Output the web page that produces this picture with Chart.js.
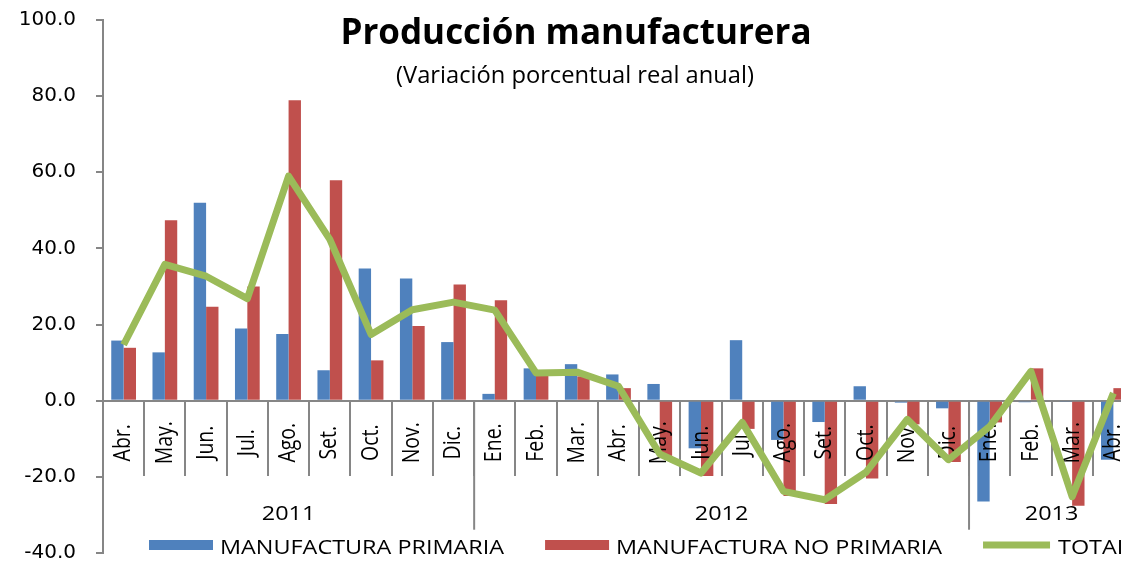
<!DOCTYPE html>
<html>
<head>
<meta charset="utf-8">
<title>Producción manufacturera</title>
<script src="https://cdn.jsdelivr.net/npm/chart.js@4/dist/chart.umd.min.js"></script>
<style>
  html, body { margin: 0; padding: 0; background: #fff; overflow: hidden; }
  #wrap { position: relative; width: 1121px; height: 561px; overflow: hidden; }
  canvas { display: block; }
</style>
</head>
<body>
<div id="wrap"><canvas id="chart" width="1134" height="575"></canvas></div>
<script>
// months Abr. 2011 .. Abr. 2013
const months = ['Abr.', 'May.', 'Jun.', 'Jul.', 'Ago.', 'Set.', 'Oct.', 'Nov.', 'Dic.',
  'Ene.', 'Feb.', 'Mar.', 'Abr.', 'May.', 'Jun.', 'Jul.', 'Ago.', 'Set.', 'Oct.', 'Nov.', 'Dic.',
  'Ene.', 'Feb.', 'Mar.', 'Abr.'];
const yearLabels = ['2011', '2012', '2013'];
const yearSpans = [9, 12, 4];

const primaria = [15.8, 12.7, 52.0, 19.0, 17.5, 8.0, 34.7, 32.1, 15.4,
  1.8, 8.5, 9.6, 6.9, 4.4, -12.5, 15.9, -10.3, -5.6, 3.8, -0.5, -2.0,
  -26.5, -0.4, -0.2, -15.5];
const noPrimaria = [13.9, 47.4, 24.7, 30.0, 78.9, 57.9, 10.6, 19.6, 30.5,
  26.4, 7.3, 6.4, 3.3, -14.5, -19.8, -7.4, -25.0, -27.1, -20.4, -6.2, -16.1,
  -5.7, 8.5, -27.6, 3.3];
const total = [14.7, 35.8, 32.7, 26.8, 59.0, 42.4, 17.4, 23.9, 25.9,
  23.8, 7.3, 7.5, 3.8, -14.0, -19.0, -5.7, -23.8, -26.0, -18.8, -4.9, -15.5,
  -6.8, 7.7, -25.2, 2.0];

const yMin = -40;
const yMax = 100;
const yStep = 20;

const BLUE = '#4F81BD';
const RED = '#C0504D';
const GREEN = '#9BBB59';
const AXIS = '#868686';
const STRETCH = 1.2; // the source picture is stretched sideways

// month labels sit under the zero line, year groups below them, title + legend on top
const decor = {
  id: 'decor',
  beforeDatasetDraw(chart, args) {
    if (args.meta.type !== 'line') return;
    const ctx = chart.ctx;
    const xs = chart.scales.x;
    const y0 = chart.scales.y.getPixelForValue(0);
    ctx.save();
    ctx.fillStyle = '#000';
    ctx.font = '19.5px "Open Sans"';
    ctx.textAlign = 'center';
    ctx.textBaseline = 'middle';
    months.forEach((m, i) => {
      ctx.save();
      ctx.translate(xs.getPixelForValue(i), y0 + 42);
      ctx.rotate(-Math.PI / 2);
      ctx.scale(1, STRETCH);
      ctx.fillText(m, 0, 0);
      ctx.restore();
    });
    ctx.restore();
  },
  afterDraw(chart) {
    const ctx = chart.ctx;
    const xs = chart.scales.x;
    const y0 = chart.scales.y.getPixelForValue(0);
    const half = (xs.getPixelForValue(1) - xs.getPixelForValue(0)) / 2;

    ctx.save();
    // year groups
    let start = 0;
    yearLabels.forEach((yr, g) => {
      const end = start + yearSpans[g];
      const left = xs.getPixelForValue(start) - half;
      const right = xs.getPixelForValue(end - 1) + half;
      if (start > 0) {
        ctx.strokeStyle = AXIS;
        ctx.lineWidth = 2;
        ctx.beginPath();
        ctx.moveTo(left, y0);
        ctx.lineTo(left, y0 + 129);
        ctx.stroke();
      }
      ctx.fillStyle = '#000';
      ctx.font = '19.5px "Open Sans"';
      ctx.textBaseline = 'alphabetic';
      stretchText(ctx, yr, (left + right) / 2, y0 + 119, 'center', STRETCH);
      start = end;
    });

    // title
    ctx.fillStyle = '#000';
    ctx.textBaseline = 'alphabetic';
    ctx.textAlign = 'center';
    ctx.font = 'bold 35px "Open Sans"';
    ctx.fillText('Producción manufacturera', 576, 44);
    ctx.font = '23px "Open Sans"';
    stretchText(ctx, '(Variación porcentual real anual)', 575, 83, 'center', 1.03);

    // legend
    let x = 149;
    const ly = 545;
    ctx.font = '19.5px "Open Sans"';
    chart.data.datasets.forEach(ds => {
      if (ds.type === 'line') {
        ctx.strokeStyle = ds.borderColor;
        ctx.lineWidth = 7;
        ctx.beginPath();
        ctx.moveTo(x, ly);
        ctx.lineTo(x + 67, ly);
        ctx.stroke();
        x += 75;
      } else {
        ctx.fillStyle = ds.backgroundColor;
        ctx.fillRect(x, ly - 5, 64, 10);
        x += 71;
      }
      ctx.fillStyle = '#000';
      stretchText(ctx, ds.label, x, ly + 9, 'left', STRETCH);
      x += ctx.measureText(ds.label).width * STRETCH + 41;
    });
    ctx.restore();
  }
};

function stretchText(ctx, text, x, y, align, sx) {
  ctx.save();
  ctx.translate(x, y);
  ctx.scale(sx, 1);
  ctx.textAlign = align;
  ctx.fillText(text, 0, 0);
  ctx.restore();
}

const ctx = document.getElementById('chart').getContext('2d');
new Chart(ctx, {
  type: 'bar',
  data: {
    labels: months,
    datasets: [
      {
        type: 'bar',
        label: 'MANUFACTURA PRIMARIA',
        data: primaria,
        backgroundColor: BLUE,
        borderWidth: 0,
        categoryPercentage: 0.6,
        barPercentage: 1.0,
        order: 1,
      },
      {
        type: 'bar',
        label: 'MANUFACTURA NO PRIMARIA',
        data: noPrimaria,
        backgroundColor: RED,
        borderWidth: 0,
        categoryPercentage: 0.6,
        barPercentage: 1.0,
        order: 1,
      },
      {
        type: 'line',
        label: 'TOTAL',
        data: total,
        borderColor: GREEN,
        backgroundColor: GREEN,
        borderWidth: 7,
        pointRadius: 0,
        tension: 0,
        borderJoinStyle: 'round',
        borderCapStyle: 'butt',
        order: 0,
      }
    ]
  },
  options: {
    responsive: false,
    animation: false,
    devicePixelRatio: 1,
    layout: { padding: { top: 20, bottom: 22, left: 0, right: 0 } },
    plugins: {
      legend: { display: false },
      title: { display: false },
      tooltip: { enabled: false }
    },
    scales: {
      x: {
        type: 'category',
        position: { y: 0 },
        offset: true,
        grid: {
          offset: true,
          drawOnChartArea: false,
          drawTicks: true,
          tickLength: 74,
          color: AXIS,
          lineWidth: 2,
        },
        border: { color: AXIS, width: 2 },
        ticks: { display: false, autoSkip: false },
      },
      y: {
        min: yMin,
        max: yMax,
        ticks: {
          stepSize: yStep,
          callback: v => v.toFixed(1),
          font: { family: 'DejaVu Sans', size: 20 },
          color: '#000',
          padding: 20,
        },
        grid: {
          drawOnChartArea: false,
          tickLength: 7,
          color: AXIS,
          lineWidth: 2,
        },
        border: { color: AXIS, width: 2 },
        // fixed axis width; tick padding is only the gap to the labels
        afterFit: scale => {
          scale.width = 103;
          scale.paddingTop = 0;
          scale.paddingBottom = 0;
        },
      }
    }
  },
  plugins: [decor]
});
</script>
</body>
</html>
